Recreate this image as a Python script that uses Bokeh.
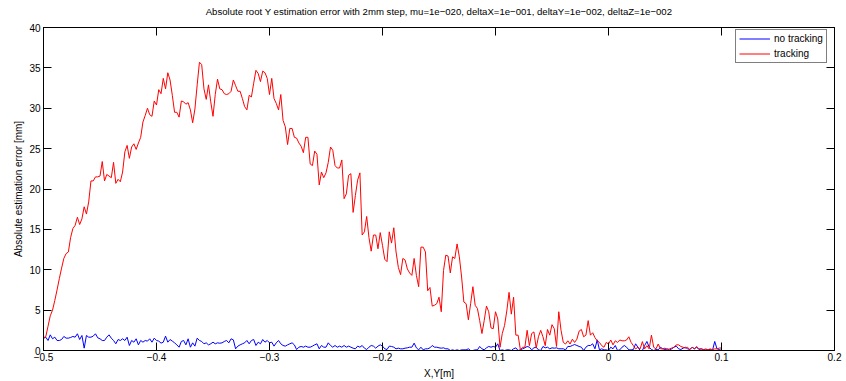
import numpy as np
from bokeh.plotting import figure
from bokeh.models import LinearAxis, FixedTicker, Range1d, Legend, LegendItem
from bokeh.embed import file_html
from bokeh.resources import INLINE

TITLE = "Absolute root Y estimation error with 2mm step, mu=1e\u2212020, deltaX=1e\u2212001, deltaY=1e\u2212002, deltaZ=1e\u2212002"
X_LABEL = "X,Y[m]"
Y_LABEL = "Absolute estimation error [mm]"
SERIES_NAMES = ["no tracking", "tracking"]

x_start = -0.5
x_step = 0.002

x_ticks = [-0.5, -0.4, -0.3, -0.2, -0.1, 0.0, 0.1, 0.2]
x_tick_labels = ["\u22120.5", "\u22120.4", "\u22120.3", "\u22120.2", "\u22120.1", "0", "0.1", "0.2"]
y_ticks = [0, 5, 10, 15, 20, 25, 30, 35, 40]

# tracking (red)
tracking = [
    1.6, 1.7, 3.0, 4.3, 5.0, 6.2, 7.5, 8.9, 10.2, 11.4,
    12.0, 12.2, 14.0, 15.1, 15.5, 16.5, 15.6, 16.3, 17.8, 16.9,
    18.4, 21.0, 21.0, 21.5, 21.5, 21.6, 23.4, 21.0, 21.8, 21.6,
    21.4, 23.3, 20.7, 21.2, 20.9, 22.1, 24.6, 25.4, 23.8, 25.2,
    25.6, 24.9, 25.7, 26.4, 28.3, 29.1, 30.0, 29.2, 29.0, 30.9,
    30.4, 32.3, 31.8, 33.7, 32.4, 34.4, 33.5, 31.6, 29.5, 29.5,
    28.9, 30.9, 30.8, 30.5, 30.7, 29.8, 28.2, 29.9, 32.9, 35.7,
    35.4, 32.4, 31.1, 32.9, 30.8, 29.0, 31.7, 33.6, 32.4,
    32.3, 31.8, 31.7, 31.8, 32.1, 33.5, 32.8, 32.1, 32.1, 31.2,
    30.2, 29.8, 31.6, 31.4, 33.1, 34.7, 34.3, 33.3, 34.6, 34.4,
    33.7, 31.7, 33.7, 31.2, 30.6, 29.8, 31.7, 28.5, 27.7, 25.5,
    27.5, 27.5, 26.4, 26.3, 25.7, 25.3, 24.5, 26.4, 26.4, 23.1,
    22.9, 24.7, 24.3, 20.5, 22.1, 21.4, 22.0, 23.3, 25.2, 24.8,
    22.9, 22.6, 22.6, 23.6, 18.8, 19.4, 21.7, 21.9, 17.1, 19.2,
    21.1, 22.0, 14.3, 14.7, 16.6, 14.0, 12.3, 14.3, 14.3, 12.6,
    14.6, 13.0, 11.3, 11.0, 14.7,
    13.3, 15.2, 12.2, 10.3, 9.4, 11.4, 11.2, 10.1, 9.6, 9.3,
    11.4, 9.3, 7.9, 12.8, 12.8, 12.2, 7.4, 7.8, 5.5, 5.6,
    5.8, 6.6, 4.8, 9.9, 11.8, 11.7, 9.6, 11.6, 11.4, 13.2,
    11.6, 9.1, 6.0, 5.8, 3.8, 5.8, 7.9, 5.6, 5.2, 3.7,
    2.1, 3.7, 5.5, 4.8, 2.8, 2.7, 4.8, 3.9, 0.4, 2.1,
    3.1, 4.9, 7.2, 4.5, 6.6, 1.9, 1.9, 0.1, 0.4, 0.4,
    2.5, 0.6, 2.1, 2.3, 0.3, 1.7, 2.5, 1.7, 0.6, 2.6,
    1.9, 3.2, 2.7, 0.5, 4.8,
    2.5,
    1.0, 0.8, 1.2, 0.8, 1.4, 1.0, 1.4, 2.4, 2.6, 1.7,
    1.9, 3.7, 1.9, 2.2, 1.6, 1.2, 1.0, 0.6, 0.4, 1.0,
    0.8, 1.3, 0.7, 1.2, 1.0, 1.3, 1.2, 1.2, 1.3, 1.7,
    1.0, 0.6, 0.2, 0.4, 0.2, 1.1, 0.2, 0.6, 0.2, 1.9,
    0.4, 0.2, 0.8, 0.2, 0.2, 0.3, 0.1, 0.2, 0.3, 0.4,
    0.7, 0.7, 0.5, 0.4, 0.3, 0.4, 0.1, 0.4, 0.2, 0.5,
    0.2, 0.2, 0.1, 0.2, 0.1, 0.2, 0.1, 0.2, 0.2, 0.3,
    0.3,
]

# no tracking (blue)
no_tracking = [
    1.5,
    1.65, 1.24, 1.94, 1.45, 1.65, 1.24, 1.24, 1.36, 1.74, 1.53,
    1.53, 1.61, 1.74, 1.65, 2.07, 1.36, 1.86, 0.29, 1.86, 1.65,
    1.65, 1.78, 2.07, 1.57, 1.45, 1.24, 1.24, 1.65, 1.94, 1.53,
    1.24, 0.83, 1.36, 1.24, 1.45, 1.24, 1.65, 0.62, 1.24, 1.03,
    1.45, 0.70, 1.24, 1.03, 1.24, 1.16, 1.45, 1.03, 1.53, 1.24,
    1.16, 0.91, 1.03, 1.78, 1.03, 1.36, 1.16, 0.95, 0.70, 0.41,
    1.12, 1.24, 0.70, 1.45, 0.41, 0.95, 0.54, 1.53, 1.24, 1.12,
    0.83, 0.95, 0.70, 0.83, 1.03, 0.83, 0.95,
    0.9,
    0.95, 1.12, 1.24, 0.95, 1.45, 1.32, 0.21, 0.54, 0.70, 0.83,
    0.95, 1.24, 0.83, 1.24, 1.36, 0.62, 1.03, 0.83, 1.36, 1.03,
    1.24, 0.95, 1.03, 0.54, 0.95, 1.24, 0.83, 0.62, 0.54, 0.70,
    0.83, 0.95, 0.70, 0.12, 0.41, 0.50, 0.41, 0.54, 0.41, 0.41,
    0.54, 0.70, 0.83, 0.21, 0.62, 0.41, 0.41, 0.95, 0.62, 0.41,
    0.62, 0.41, 0.54, 0.41, 0.62, 0.41, 0.54, 0.41, 0.29, 0.21,
    0.54, 0.41, 0.62, 0.29, 0.12, 0.41, 0.62, 0.54, 0.29, 0.54,
    0.70, 0.54, 0.21, 0.12, 0.54,
    0.50, 0.41, 0.21, 0.29, 0.21, 0.21, 0.29, 0.33, 0.41, 0.41,
    0.91, 0.33, 0.08, 0.41, 0.08, 0.21, 0.21, 0.33, 0.62, 0.41,
    0.41, 0.33, 0.29, 0.33, 0.21, 0.21, 0.0, 0.08, 0.0, 0.08,
    0.0, 0.08, 0.08, 0.08, 0.21, 0.0, 0.0, 0.08, 0.08, 0.50,
    0.21, 0.08, 0.33, 0.50, 0.41, 0.50, 0.41, 0.83, 0.0, 0.08,
    0.0, 0.08, 0.08, 0.0, 0.21, 0.33, 0.0, 0.08, 0.21, 0.33,
    0.50, 0.41, 0.08, 0.33, 0.41, 0.08, 0.0, 0.50, 0.33, 0.41,
    0.21, 0.33, 0.29, 0.33, 0.21,
    0.21, 0.21, 0.08, 0.50, 0.50, 0.62, 0.74, 0.62, 0.50, 0.41,
    0.0, 0.41, 0.62, 0.62, 0.83, 0.21, 1.32, 0.08, 0.21, 0.08,
    0.08, 0.0, 0.41, 0.21, 0.62, 0.0, 0.08, 0.41, 0.62, 0.41,
    0.08, 0.08, 0.12, 0.83, 0.41, 0.0, 0.0, 0.62, 1.12, 0.41,
    0.12, 0.0, 0.12, 0.08, 0.41, 0.21, 0.12, 0.21, 0.08,
    0.21, 0.41, 0.54, 0.21, 0.12, 0.29, 0.41, 0.21, 0.12, 0.41,
    0.21, 0.41, 0.12, 0.21, 0.12, 0.08, 0.12, 0.12,
    0.0, 1.12, 0.21, 0.12, 0.0,
]

x_red = x_start + x_step * np.arange(len(tracking))
x_blue = x_start + x_step * np.arange(len(no_tracking))

FONT = "Liberation Sans"

p = figure(width=846, height=381,
           x_range=Range1d(-0.5, 0.2), y_range=Range1d(0, 40),
           output_backend="svg", toolbar_location=None,
           min_border_left=43, min_border_right=12, min_border_top=27, min_border_bottom=31,
           x_axis_label=X_LABEL, y_axis_label=Y_LABEL)

# second (blank) line lifts the title's first line towards the top edge
p.title.text = TITLE + "\n "
p.title.align = "center"
p.title.text_font = FONT
p.title.text_font_size = "9.6px"
p.title.text_font_style = "normal"
p.title.text_color = "black"
p.title.standoff = 0

p.grid.visible = False
p.outline_line_color = "black"
p.outline_line_width = 1
p.background_fill_color = "white"
p.border_fill_color = "white"

for ax in p.xaxis:
    ax.ticker = FixedTicker(ticks=x_ticks)
    ax.major_label_overrides = {t: l for t, l in zip(x_ticks, x_tick_labels)}
for ax in p.yaxis:
    ax.ticker = FixedTicker(ticks=y_ticks)

for ax in list(p.xaxis) + list(p.yaxis):
    ax.major_tick_in = 8
    ax.major_tick_out = 0
    ax.minor_tick_in = 0
    ax.minor_tick_out = 0
    ax.axis_line_color = "black"
    ax.major_tick_line_color = "black"
    ax.major_label_text_font = FONT
    ax.major_label_text_font_size = "10px"
    ax.major_label_text_color = "black"
    ax.axis_label_text_font = FONT
    ax.axis_label_text_font_size = "10px"
    ax.axis_label_text_font_style = "normal"
    ax.axis_label_text_color = "black"
p.xaxis.major_label_standoff = 2
p.yaxis.major_label_standoff = 3
p.xaxis.axis_label_standoff = 4
p.yaxis.axis_label_standoff = 2

top = LinearAxis(ticker=FixedTicker(ticks=x_ticks), major_tick_in=8, major_tick_out=0,
                 minor_tick_in=0, minor_tick_out=0, major_label_text_font_size="0px",
                 major_label_standoff=0, axis_line_color="black")
right = LinearAxis(ticker=FixedTicker(ticks=y_ticks), major_tick_in=8, major_tick_out=0,
                   minor_tick_in=0, minor_tick_out=0, major_label_text_font_size="0px",
                   major_label_standoff=0, axis_line_color="black")
p.add_layout(top, "above")
p.add_layout(right, "right")

r_blue = p.line(x_blue, no_tracking, line_color="#0000ff", line_width=1)
r_red = p.line(x_red, tracking, line_color="#ff0000", line_width=1)

legend = Legend(items=[LegendItem(label=SERIES_NAMES[0], renderers=[r_blue]),
                       LegendItem(label=SERIES_NAMES[1], renderers=[r_red])],
                location=(692, 287))
legend.border_line_color = "black"
legend.border_line_width = 1
legend.background_fill_color = "white"
legend.background_fill_alpha = 1
legend.label_text_font = FONT
legend.label_text_font_size = "10px"
legend.label_text_color = "black"
legend.glyph_width = 31
legend.glyph_height = 11
legend.label_height = 11
legend.label_standoff = 4
legend.padding = 3
legend.spacing = 4
legend.margin = 0
p.add_layout(legend)

open("out.html", "w").write(file_html(p, INLINE))
